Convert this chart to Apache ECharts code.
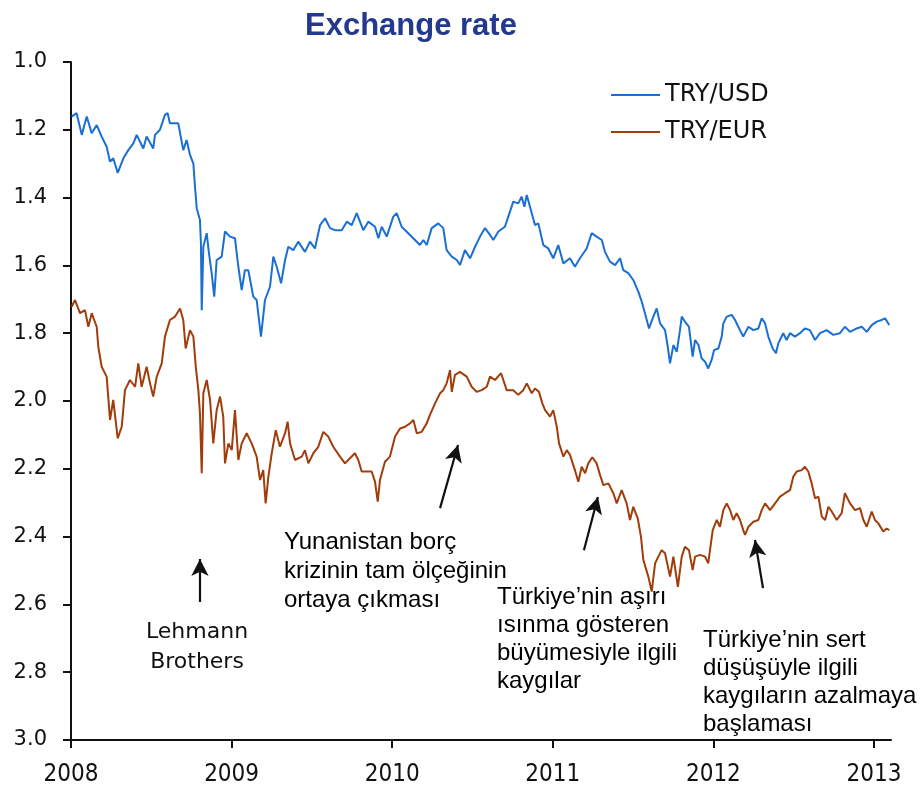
<!DOCTYPE html>
<html>
<head>
<meta charset="utf-8">
<script src="https://cdn.jsdelivr.net/npm/echarts@6/dist/echarts.min.js"></script>
<style>
html,body{margin:0;padding:0;background:#fff;}
#chart{width:921px;height:792px;}
</style>
</head>
<body>
<div id="chart"></div>
<script>
// ---- Data (decimal year, rate) ----
var usdSeries = [
[2008.004,1.161],[2008.035,1.151],[2008.067,1.215],[2008.098,1.161],[2008.129,1.21],[2008.160,1.186],[2008.191,1.22],[2008.222,1.25],[2008.243,1.294],[2008.263,1.284],[2008.291,1.327],[2008.326,1.284],[2008.357,1.26],[2008.388,1.24],[2008.409,1.215],[2008.450,1.255],[2008.471,1.22],[2008.512,1.255],[2008.523,1.215],[2008.554,1.20],[2008.585,1.156],[2008.602,1.151],[2008.616,1.181],[2008.668,1.181],[2008.699,1.26],[2008.720,1.23],[2008.741,1.274],[2008.762,1.30],[2008.772,1.368],[2008.783,1.432],[2008.803,1.466],[2008.809,1.534],[2008.814,1.732],[2008.824,1.545],[2008.845,1.505],[2008.859,1.564],[2008.876,1.623],[2008.892,1.692],[2008.907,1.584],[2008.938,1.574],[2008.959,1.50],[2008.990,1.515],
[2009.021,1.52],[2009.042,1.604],[2009.063,1.673],[2009.083,1.614],[2009.104,1.614],[2009.135,1.692],[2009.156,1.702],[2009.183,1.81],[2009.208,1.702],[2009.239,1.663],[2009.260,1.574],[2009.281,1.604],[2009.308,1.653],[2009.333,1.584],[2009.353,1.545],[2009.384,1.555],[2009.415,1.53],[2009.457,1.56],[2009.488,1.53],[2009.519,1.55],[2009.551,1.481],[2009.582,1.461],[2009.613,1.49],[2009.644,1.496],[2009.686,1.496],[2009.717,1.471],[2009.748,1.481],[2009.779,1.446],[2009.820,1.496],[2009.851,1.471],[2009.893,1.486],[2009.914,1.52],[2009.935,1.486],[2009.966,1.515],
[2010.007,1.456],[2010.028,1.446],[2010.059,1.486],[2010.100,1.505],[2010.142,1.525],[2010.173,1.54],[2010.194,1.525],[2010.215,1.54],[2010.246,1.49],[2010.287,1.476],[2010.318,1.49],[2010.339,1.555],[2010.371,1.574],[2010.402,1.584],[2010.422,1.599],[2010.453,1.555],[2010.485,1.579],[2010.516,1.545],[2010.547,1.515],[2010.578,1.49],[2010.609,1.51],[2010.630,1.525],[2010.661,1.50],[2010.702,1.486],[2010.723,1.456],[2010.754,1.412],[2010.785,1.417],[2010.806,1.397],[2010.823,1.427],[2010.838,1.392],[2010.858,1.427],[2010.889,1.481],[2010.910,1.476],[2010.941,1.54],[2010.972,1.55],
[2011.003,1.579],[2011.034,1.54],[2011.066,1.594],[2011.107,1.579],[2011.138,1.604],[2011.169,1.579],[2011.211,1.55],[2011.242,1.505],[2011.273,1.515],[2011.305,1.525],[2011.325,1.56],[2011.356,1.589],[2011.388,1.599],[2011.419,1.579],[2011.439,1.614],[2011.470,1.623],[2011.501,1.643],[2011.533,1.678],[2011.554,1.707],[2011.574,1.741],[2011.599,1.786],[2011.626,1.751],[2011.647,1.727],[2011.668,1.771],[2011.699,1.791],[2011.716,1.84],[2011.730,1.889],[2011.751,1.835],[2011.772,1.855],[2011.792,1.791],[2011.803,1.751],[2011.823,1.766],[2011.848,1.781],[2011.871,1.869],[2011.886,1.82],[2011.907,1.835],[2011.927,1.874],[2011.948,1.884],[2011.968,1.904],[2011.989,1.879],
[2012.004,1.85],[2012.031,1.845],[2012.052,1.81],[2012.062,1.771],[2012.083,1.751],[2012.114,1.746],[2012.135,1.761],[2012.155,1.781],[2012.186,1.81],[2012.218,1.781],[2012.249,1.791],[2012.280,1.786],[2012.301,1.756],[2012.322,1.771],[2012.342,1.81],[2012.369,1.845],[2012.390,1.859],[2012.404,1.83],[2012.435,1.80],[2012.456,1.82],[2012.477,1.80],[2012.508,1.81],[2012.539,1.80],[2012.570,1.786],[2012.601,1.791],[2012.633,1.82],[2012.664,1.80],[2012.705,1.791],[2012.747,1.805],[2012.788,1.80],[2012.819,1.781],[2012.851,1.796],[2012.892,1.786],[2012.924,1.781],[2012.955,1.796],[2012.986,1.776],
[2013.017,1.766],[2013.048,1.761],[2013.069,1.756],[2013.095,1.776]
];
var eurSeries = [
[2008.004,1.722],[2008.025,1.702],[2008.056,1.741],[2008.087,1.732],[2008.108,1.781],[2008.129,1.741],[2008.160,1.781],[2008.170,1.84],[2008.191,1.899],[2008.222,1.928],[2008.243,2.056],[2008.263,1.997],[2008.291,2.11],[2008.316,2.076],[2008.336,1.968],[2008.367,1.938],[2008.399,1.958],[2008.419,1.889],[2008.440,1.958],[2008.471,1.899],[2008.492,1.948],[2008.512,1.987],[2008.534,1.928],[2008.565,1.889],[2008.585,1.81],[2008.616,1.761],[2008.648,1.751],[2008.679,1.727],[2008.699,1.761],[2008.714,1.845],[2008.741,1.791],[2008.762,1.81],[2008.777,1.899],[2008.793,1.968],[2008.803,2.036],[2008.814,2.213],[2008.824,1.977],[2008.845,1.938],[2008.866,1.997],[2008.886,2.125],[2008.907,2.027],[2008.928,1.987],[2008.948,2.046],[2008.959,2.184],[2008.980,2.125],
[2009.001,2.145],[2009.021,2.027],[2009.042,2.174],[2009.063,2.125],[2009.094,2.095],[2009.125,2.125],[2009.156,2.164],[2009.177,2.233],[2009.197,2.204],[2009.212,2.302],[2009.229,2.223],[2009.250,2.154],[2009.275,2.086],[2009.301,2.135],[2009.333,2.095],[2009.349,2.061],[2009.364,2.125],[2009.395,2.174],[2009.437,2.164],[2009.457,2.145],[2009.478,2.184],[2009.509,2.154],[2009.540,2.135],[2009.571,2.091],[2009.602,2.105],[2009.633,2.135],[2009.675,2.164],[2009.706,2.184],[2009.737,2.169],[2009.768,2.154],[2009.789,2.174],[2009.810,2.208],[2009.872,2.208],[2009.893,2.238],[2009.910,2.297],[2009.924,2.233],[2009.955,2.179],[2009.986,2.164],
[2010.018,2.105],[2010.049,2.081],[2010.080,2.076],[2010.111,2.066],[2010.132,2.056],[2010.153,2.095],[2010.184,2.091],[2010.215,2.066],[2010.235,2.041],[2010.267,2.007],[2010.298,1.977],[2010.318,1.968],[2010.339,1.948],[2010.360,1.909],[2010.371,1.973],[2010.391,1.923],[2010.422,1.914],[2010.464,1.928],[2010.495,1.958],[2010.526,1.973],[2010.557,1.968],[2010.589,1.958],[2010.609,1.928],[2010.640,1.938],[2010.678,1.918],[2010.713,1.968],[2010.754,1.968],[2010.785,1.982],[2010.816,1.968],[2010.838,1.948],[2010.869,1.977],[2010.889,1.963],[2010.914,1.973],[2010.935,2.007],[2010.952,2.027],[2010.983,2.046],
[2011.003,2.027],[2011.025,2.076],[2011.039,2.125],[2011.066,2.164],[2011.087,2.145],[2011.107,2.159],[2011.138,2.204],[2011.159,2.238],[2011.180,2.194],[2011.201,2.213],[2011.221,2.184],[2011.246,2.166],[2011.273,2.184],[2011.294,2.218],[2011.315,2.248],[2011.346,2.243],[2011.377,2.272],[2011.398,2.302],[2011.429,2.263],[2011.460,2.302],[2011.481,2.351],[2011.501,2.312],[2011.529,2.346],[2011.549,2.40],[2011.564,2.469],[2011.595,2.518],[2011.616,2.562],[2011.637,2.479],[2011.657,2.459],[2011.678,2.44],[2011.699,2.449],[2011.730,2.518],[2011.751,2.459],[2011.779,2.548],[2011.803,2.459],[2011.823,2.43],[2011.848,2.44],[2011.871,2.499],[2011.886,2.459],[2011.917,2.454],[2011.948,2.459],[2011.968,2.479],[2011.979,2.44],[2011.996,2.381],
[2012.021,2.351],[2012.041,2.371],[2012.062,2.322],[2012.083,2.302],[2012.104,2.322],[2012.124,2.351],[2012.145,2.331],[2012.166,2.351],[2012.186,2.381],[2012.197,2.395],[2012.218,2.371],[2012.249,2.356],[2012.280,2.351],[2012.301,2.322],[2012.322,2.302],[2012.353,2.322],[2012.384,2.302],[2012.415,2.282],[2012.446,2.272],[2012.477,2.263],[2012.498,2.223],[2012.519,2.208],[2012.550,2.204],[2012.570,2.194],[2012.591,2.208],[2012.612,2.243],[2012.633,2.287],[2012.654,2.282],[2012.675,2.341],[2012.696,2.351],[2012.716,2.312],[2012.737,2.326],[2012.768,2.351],[2012.799,2.331],[2012.819,2.272],[2012.851,2.302],[2012.882,2.322],[2012.913,2.316],[2012.934,2.351],[2012.955,2.371],[2012.986,2.326],
[2013.006,2.351],[2013.027,2.361],[2013.058,2.385],[2013.079,2.376],[2013.095,2.381]
];
var yearTicks = [2008, 2009, 2010, 2011, 2012, 2013];
var seriesNames = ['TRY/USD', 'TRY/EUR'];
// annotation arrows: [from, to] in (year, rate)
var arrows = [
  [[2008.803, 2.593], [2008.803, 2.466]],
  [[2010.298, 2.316], [2010.410, 2.130]],
  [[2011.194, 2.440], [2011.281, 2.283]],
  [[2012.309, 2.552], [2012.259, 2.410]]
];
var notes = [
  'Lehmann\nBrothers',
  'Yunanistan borç\nkrizinin tam ölçeğinin\nortaya çıkması',
  'Türkiye’nin aşırı\nısınma gösteren\nbüyümesiyle ilgili\nkaygılar',
  'Türkiye’nin sert\ndüşüşüyle ilgili\nkaygıların azalmaya\nbaşlaması'
];

var chart = echarts.init(document.getElementById('chart'));
var annFont = '24px "Liberation Sans", Arial, sans-serif';
var option = {
  animation: false,
  backgroundColor: '#ffffff',
  title: {
    text: 'Exchange rate',
    left: 300, top: 6,
    textStyle: { fontFamily: '"Liberation Sans", Arial, sans-serif', fontSize: 31, fontWeight: 'bold', color: '#22398e' }
  },
  legend: {
    orient: 'vertical',
    left: 606, top: 78,
    itemWidth: 49, itemHeight: 2, itemGap: 13,
    icon: 'rect',
    data: seriesNames,
    textStyle: { fontFamily: '"DejaVu Sans", sans-serif', fontSize: 24, color: '#111' }
  },
  grid: { left: 71, right: 30, top: 62, bottom: 52, containLabel: false },
  xAxis: {
    type: 'value',
    min: 2008, max: 2013.106,
    interval: 1,
    splitLine: { show: false },
    axisLine: { onZero: false, lineStyle: { color: '#111', width: 2 } },
    axisTick: { show: true, length: 8, lineStyle: { color: '#111', width: 2 }, customValues: yearTicks },
    axisLabel: {
      customValues: yearTicks,
      margin: 23,
      formatter: function (v) { return String(Math.round(v)); },
      fontFamily: '"Liberation Sans Narrow", "DejaVu Sans Condensed", "Liberation Sans", sans-serif',
      fontSize: 24, color: '#111'
    }
  },
  yAxis: {
    type: 'value',
    inverse: true,
    min: 1.0, max: 3.0, interval: 0.2,
    splitLine: { show: false },
    axisLine: { show: true, onZero: false, lineStyle: { color: '#111', width: 2 } },
    axisTick: { show: true, length: 8, lineStyle: { color: '#111', width: 2 } },
    axisLabel: {
      margin: 24,
      formatter: function (v) { return v.toFixed(1); },
      fontFamily: '"DejaVu Sans", sans-serif',
      fontSize: 21, color: '#111'
    }
  },
  series: [
    {
      name: seriesNames[0], type: 'line', data: usdSeries,
      symbol: 'none', color: '#1a6fd3',
      lineStyle: { width: 2, color: '#1a6fd3' }
    },
    {
      name: seriesNames[1], type: 'line', data: eurSeries,
      symbol: 'none', color: '#a13c0b',
      lineStyle: { width: 2, color: '#a13c0b' },
      markLine: {
        silent: true,
        symbol: ['none', 'arrow'],
        symbolSize: [13, 17],
        lineStyle: { color: '#111', width: 2.2, type: 'solid' },
        label: { show: false },
        emphasis: { disabled: true },
        data: arrows.map(function (a) {
          return [{ coord: a[0] }, { coord: a[1] }];
        })
      }
    }
  ],
  graphic: [
    { type: 'text', x: 197, y: 617, style: { text: notes[0], align: 'center', verticalAlign: 'top', font: '22px "DejaVu Sans", sans-serif', lineHeight: 30, fill: '#111' } },
    { type: 'text', left: 284, top: 528, style: { text: notes[1], font: annFont, lineHeight: 29, fill: '#000' } },
    { type: 'text', left: 497, top: 583, style: { text: notes[2], font: annFont, lineHeight: 28, fill: '#000' } },
    { type: 'text', left: 703, top: 626, style: { text: notes[3], font: annFont, lineHeight: 28, fill: '#000' } }
  ]
};
chart.setOption(option);
</script>
</body>
</html>
